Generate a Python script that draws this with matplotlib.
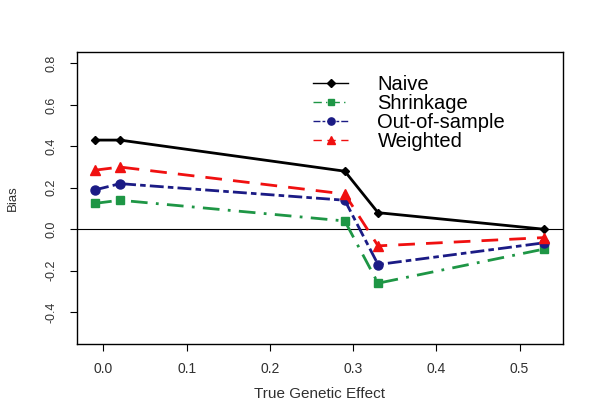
import numpy as np
import matplotlib
matplotlib.use('Agg')
import matplotlib.pyplot as plt

# values
effect = [-0.01, 0.02, 0.29, 0.33, 0.53]
naive = [0.43, 0.43, 0.28, 0.08, 0.0]
shrinkage = [0.125, 0.14, 0.04, -0.26, -0.095]
outOfSample = [0.19, 0.22, 0.14, -0.17, -0.065]
weighted = [0.285, 0.30, 0.17, -0.08, -0.04]
xTicks = [0.0, 0.1, 0.2, 0.3, 0.4, 0.5]
yTicks = [-0.4, -0.2, 0.0, 0.2, 0.4, 0.6, 0.8]

plt.rcParams['font.family'] = ['Liberation Sans', 'DejaVu Sans']
txt = '#303030'

fig = plt.figure(figsize=(6, 4.09), dpi=100)
ax = fig.add_axes([0.128, 0.159, 0.81, 0.713])

ax.axhline(0, color='black', lw=0.8, zorder=1)
ax.plot(effect, naive, color='black', lw=2, ls='-', marker='D', ms=4.5, label='Naive')
ax.plot(effect, shrinkage, color='#1E9645', lw=2, ls=(0, (6, 3, 1, 3)), marker='s', ms=6, label='Shrinkage')
ax.plot(effect, outOfSample, color='#1B1B85', lw=2, ls=(0, (5, 1.5, 2, 1.5)), marker='o', ms=6.5, label='Out-of-sample')
ax.plot(effect, weighted, color='#F01010', lw=2, ls=(0, (6, 4)), marker='^', ms=7.5, label='Weighted')

ax.set_xlim(-0.032, 0.552)
ax.set_ylim(-0.553, 0.853)
ax.set_xticks(xTicks)
ax.set_xticklabels(['%.1f' % v for v in xTicks])
ax.set_yticks(yTicks)
ax.set_yticklabels(['%.1f' % v for v in yTicks], rotation=90, va='center')
ax.tick_params(direction='out', length=5, width=0.8, labelcolor=txt)
ax.tick_params(axis='x', labelsize=10, pad=8)
ax.tick_params(axis='y', labelsize=9, pad=9)
for s in ax.spines.values():
    s.set_linewidth(1)

ax.set_xlabel('True Genetic Effect', fontsize=11, color=txt, labelpad=8)
ax.set_ylabel('Bias', fontsize=9.5, color=txt, labelpad=19)

leg = ax.legend(loc='upper left', bbox_to_anchor=(0.486, 0.921), frameon=False,
                fontsize=14.5, handlelength=1.75, handletextpad=1.45,
                labelspacing=0.0, borderpad=0, borderaxespad=0)
for ln in leg.get_lines():
    ln.set_linewidth(1)
    ln.set_markersize(ln.get_markersize() * 0.8)

fig.savefig('out.png', dpi=100)
